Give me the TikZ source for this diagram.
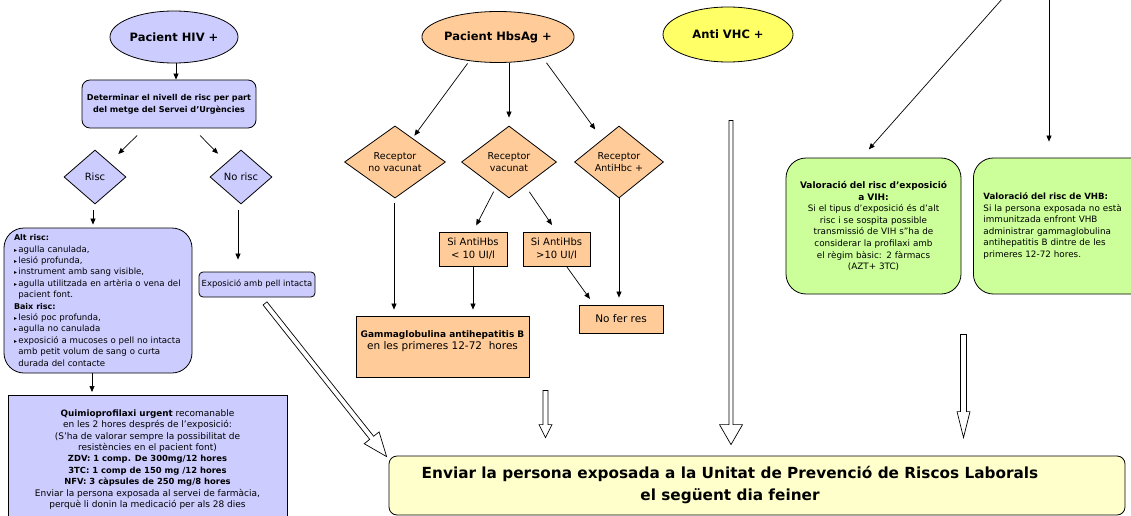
\documentclass[tikz,border=0pt]{standalone}
\usepackage{fontspec}
\setmainfont{DejaVu Sans}
\usetikzlibrary{shapes.geometric,calc,arrows.meta}
\definecolor{lav}{HTML}{CCCCFF}
\definecolor{peach}{HTML}{FFCC99}
\definecolor{yel}{HTML}{FFFF66}
\definecolor{lyel}{HTML}{FFFFCC}
\definecolor{lgreen}{HTML}{CCFF99}
\newcommand\fsz[2]{\fontsize{#1}{#2}\selectfont}
\newcommand\bul{{\fsz{6}{6}▸}\,}
\newcommand\hollowarrow[5]{%
  \path ($(#2)!#5!(#1)$) coordinate (hb);
  \draw[hollow] ($(#1)!#3!90:(#2)$) -- ($(hb)!#3!-90:(#1)$) -- ($(hb)!#4!-90:(#1)$) -- (#2)
     -- ($(hb)!#4!90:(#1)$) -- ($(hb)!#3!90:(#1)$) -- ($(#1)!#3!-90:(#2)$) -- cycle;}
\begin{document}
\begin{tikzpicture}[x=1pt,y=-1pt,
  base/.style={draw=black, line width=0.8pt, inner sep=2pt, align=center},
  ell/.style={base, ellipse, inner sep=0pt, font=\bfseries\fsz{11.5}{13}},
  dia/.style={base, diamond, inner sep=0pt, font=\fsz{9.5}{12}},
  box/.style={base, rectangle},
  arr/.style={-{Triangle[length=6pt,width=5pt]}, line width=0.7pt},
  hollow/.style={draw=black, fill=white, line width=0.7pt, line join=miter}]
\useasboundingbox (0,0) rectangle (1131,516);

% ---------------- HIV column ----------------
\node[ell, fill=lav, minimum width=128, minimum height=52] (hiv) at (174,37) {Pacient HIV +};
\node[box, fill=lav, rounded corners=8, minimum width=174, minimum height=48,
      font=\bfseries\fsz{8.1}{12}] (det) at (169,104)
  {Determinar el nivell de risc per part\\del metge del Servei d'Urgències};
\node[dia, fill=lav, minimum width=62, minimum height=54, font=\fsz{10}{12}] (risc) at (95,177) {Risc};
\node[dia, fill=lav, minimum width=62, minimum height=54, font=\fsz{10}{12}] (norisc) at (241,177) {No risc};
\node[box, fill=lav, rounded corners=20, minimum width=188, minimum height=145,
      text width=168, align=left, font=\fsz{8.6}{11.4}] (alt) at (98,300.5)
  {{\fsz{8}{11.4}\bfseries Alt risc:}\\
   \bul agulla canulada,\\
   \bul lesió profunda,\\
   \bul instrument amb sang visible,\\
   \bul agulla utilitzada en artèria o vena del\\
   \phantom{\bul}pacient font.\\
   {\fsz{8}{11.4}\bfseries Baix risc:}\\
   \bul lesió poc profunda,\\
   \bul agulla no canulada\\
   \bul exposició a mucoses o pell no intacta\\
   \phantom{\bul}amb petit volum de sang o curta\\
   \phantom{\bul}durada del contacte};
\node[box, fill=lav, rounded corners=4, minimum width=116, minimum height=25,
      font=\fsz{8.4}{10}] (expo) at (257,284.5) {Exposició amb pell intacta};
\node[box, fill=lav, anchor=north, minimum width=279, minimum height=128,
      font=\fsz{9}{11.4}] (quimio) at (147.5,395)
  {{\bfseries\fsz{8.8}{11.4}Quimioprofilaxi urgent} recomanable\\
   en les 2 hores després de l'exposició:\\
   (S'ha de valorar sempre la possibilitat de\\
   resistències en el pacient font)\\
   {\bfseries\fsz{8.4}{11.4}ZDV: 1 comp. De 300mg/12 hores}\\
   {\bfseries\fsz{8.4}{11.4}3TC: 1 comp de 150 mg /12 hores}\\
   {\bfseries\fsz{8.4}{11.4}NFV: 3 càpsules de 250 mg/8 hores}\\
   Enviar la persona exposada al servei de farmàcia,\\
   perquè li donin la medicació per als 28 dies};

\draw[arr] (hiv.south -| 176,0) -- (176,0 |- det.north);
\draw[arr, shorten <=10pt, shorten >=12pt] (det) -- (risc);
\draw[arr, shorten <=10pt, shorten >=12pt] (det) -- (norisc);
\draw[arr, shorten <=6pt, shorten >=3pt] ([xshift=-2pt]risc.south) -- ([xshift=-2pt]risc.south |- alt.north);
\draw[arr, shorten <=6pt, shorten >=12pt] ([xshift=-3pt]norisc.south) -- ([xshift=-3pt]norisc.south |- expo.north);
\draw[arr, shorten >=3pt] ([xshift=-6pt]alt.south) -- ([xshift=-6pt]alt.south |- quimio.north);

% ---------------- HBV column ----------------
\node[ell, fill=peach, minimum width=130, minimum height=51] (hbs) at (498,37) {Pacient HbsAg +};
\node[dia, fill=peach, minimum width=101, minimum height=72] (novac) at (395,162) {Receptor\\no vacunat};
\node[dia, fill=peach, minimum width=95, minimum height=72] (vac) at (509,162) {Receptor\\vacunat};
\node[dia, fill=peach, minimum width=89, minimum height=72] (antihbc) at (619,162) {Receptor\\AntiHbc +};
\node[box, fill=peach, minimum width=68, minimum height=34, font=\fsz{10}{13}] (lt10) at (473,249) {Si AntiHbs\\< 10 UI/l};
\node[box, fill=peach, minimum width=67, minimum height=34, font=\fsz{10}{13}] (gt10) at (556.5,249) {Si AntiHbs\\>10 UI/l};
\node[box, fill=peach, minimum width=173, minimum height=61, font=\fsz{10.5}{12.5}] (gamma) at (442.5,346.5)
  {{\bfseries\fsz{9}{12.5}Gammaglobulina antihepatitis B}\\en les primeres 12-72~ hores\\~};
\node[box, fill=peach, minimum width=84, minimum height=28, font=\fsz{10.5}{12}] (nofer) at (621,319) {No fer res};

\draw[arr, shorten <=3pt, shorten >=3pt] (hbs.220) -- (novac);
\draw[arr, shorten >=8pt] (hbs.south -| vac.north) -- (vac.north);
\draw[arr, shorten <=6pt, shorten >=12pt] (hbs.-25) -- (antihbc);
\draw[arr, shorten <=4pt, shorten >=7pt] (vac) -- (lt10.north);
\draw[arr, shorten <=7pt, shorten >=8pt] (vac) -- (gt10.north);
\draw[arr, shorten <=5pt, shorten >=6pt] ([xshift=-1pt]novac.south) -- ([xshift=-1pt]novac.south |- gamma.north);
\draw[arr, shorten >=6pt] (lt10.south) -- (lt10.south |- gamma.north);
\draw[arr, shorten >=7pt] ([xshift=10pt]gt10.south) -- ([xshift=-27pt]nofer.north);
\draw[arr, shorten >=7pt] (antihbc.south) -- (antihbc.south |- nofer.north);

% ---------------- HCV and bottom ----------------
\node[ell, fill=yel, minimum width=130, minimum height=55] (vhc) at (728,34.5) {Anti VHC +};
\node[box, fill=lyel, rounded corners=8, minimum width=736, minimum height=59,
      font=\bfseries\fsz{15.3}{22}] (enviar) at (757,485.5)
  {Enviar la persona exposada a la Unitat de Prevenció de Riscos Laborals\hspace*{54pt}\\el següent dia feiner\hspace*{54pt}};

% ---------------- right column ----------------
\node[box, fill=lgreen, rounded corners=20, minimum width=175, minimum height=136,
      text width=170, inner xsep=2pt, font=\fsz{8.8}{11.6}] (vih) at (873.5,226)
  {{\bfseries\fsz{9}{13}Valoració del risc d'exposició}\\{\bfseries\fsz{9}{13}a VIH:}\\
   Si el tipus d'exposició és d'alt\\risc i se sospita possible\\transmissió de VIH s''ha de\\
   considerar la profilaxi amb\\el règim bàsic: 2 fàrmacs\\(AZT+ 3TC)};
\node[box, fill=lgreen, rounded corners=20, anchor=west, minimum width=190, minimum height=136,
      text width=170, align=left, font=\fsz{8.8}{11.6}] (vhb) at (973,226)
  {{\bfseries\fsz{8.6}{11.6}Valoració del risc de VHB:}\\
   Si la persona exposada no està\\immunitzada enfront VHB\\administrar gammaglobulina\\
   antihepatitis B dintre de les\\primeres 12-72 hores.};

\coordinate (tA) at (1003,-2);
\coordinate (tB) at (1049,-2);
\draw[arr, shorten >=11pt] (tA) -- ([xshift=-12pt]vih.north);
\draw[arr, shorten >=16pt] (tB) -- (tB |- vhb.north);

% ---------------- hollow arrows ----------------
\coordinate (h1s) at ([shift={(8,6)}]expo.south);
\coordinate (h1e) at ([shift={(-2,1)}]enviar.north west);
\hollowarrow{h1s}{h1e}{2.5pt}{9.5pt}{24pt}
\coordinate (h2s) at ([shift={(103,13)}]gamma.south);
\coordinate (h2e) at ([shift={(103,-18)}]gamma.south |- enviar.north);
\hollowarrow{h2s}{h2e}{2.5pt}{6.5pt}{13pt}
\coordinate (h3s) at ([shift={(3,58)}]vhc.south);
\coordinate (h3e) at ([shift={(3,-11)}]vhc.south |- enviar.north);
\hollowarrow{h3s}{h3e}{2pt}{11.5pt}{20pt}
\coordinate (h4s) at ([shift={(90,40)}]vih.south);
\coordinate (h4e) at ([shift={(90,-18)}]vih.south |- enviar.north);
\hollowarrow{h4s}{h4e}{3pt}{6.5pt}{26pt}
\end{tikzpicture}
\end{document}
